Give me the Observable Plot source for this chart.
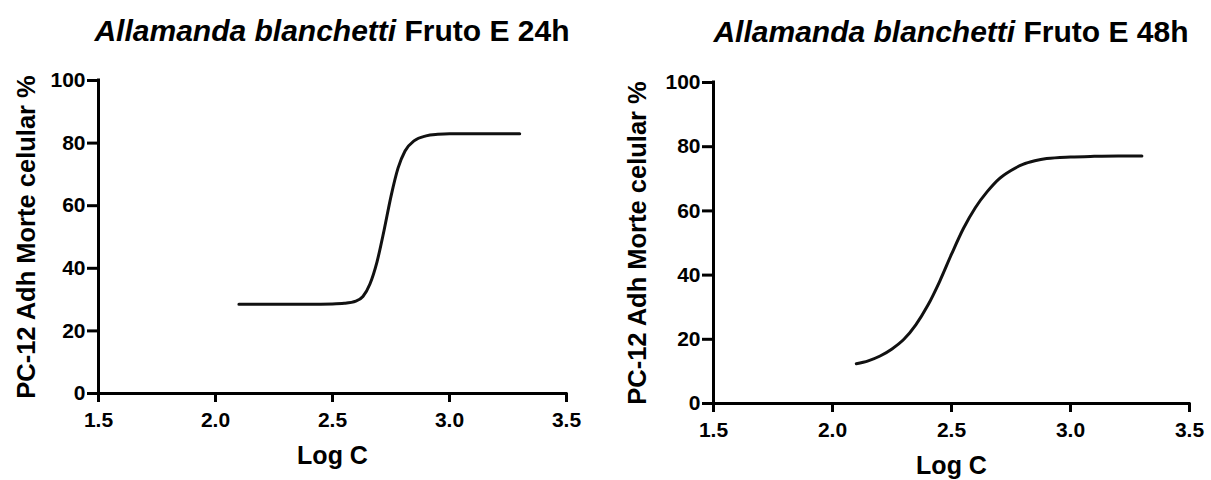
<!DOCTYPE html>
<html>
<head>
<meta charset="utf-8">
<script src="https://cdn.jsdelivr.net/npm/d3@7"></script>
<script src="https://cdn.jsdelivr.net/npm/@observablehq/plot@0.6"></script>
<style>
  html, body { margin: 0; padding: 0; background: #fff; }
  #wrap { position: relative; width: 1211px; height: 480px; overflow: hidden; }
  #wrap svg { position: absolute; top: 0; }
</style>
</head>
<body>
<div id="wrap"></div>
<script>
// ---- data ----
const titleItalic = "Allamanda blanchetti";
const titles = [" Fruto E 24h", " Fruto E 48h"];
const xLabel = "Log C";
const yLabel = "PC-12 Adh Morte celular %";
const xTicks = [1.5, 2.0, 2.5, 3.0, 3.5];
const yTicks = [0, 20, 40, 60, 80, 100];

const logC24 = [2.10, 2.20, 2.30, 2.40, 2.50, 2.55, 2.60, 2.63, 2.66, 2.69, 2.72, 2.75, 2.78, 2.81, 2.85, 2.90, 2.95, 3.00, 3.10, 3.20, 3.30];
const death24 = [28.5, 28.5, 28.5, 28.5, 28.6, 28.8, 29.5, 31.0, 35.0, 42.0, 52.0, 63.0, 72.0, 77.5, 80.8, 82.3, 82.8, 83.0, 83.0, 83.0, 83.0];

const logC48 = [2.10, 2.15, 2.20, 2.25, 2.30, 2.35, 2.40, 2.45, 2.50, 2.55, 2.60, 2.65, 2.70, 2.75, 2.80, 2.85, 2.90, 3.00, 3.10, 3.20, 3.30];
const death48 = [12.4, 13.3, 14.8, 17.0, 20.0, 24.5, 30.5, 38.0, 46.5, 54.5, 61.0, 66.0, 70.0, 72.6, 74.5, 75.6, 76.3, 76.8, 77.0, 77.1, 77.1];

const FONT = "'Liberation Sans', Arial, Helvetica, sans-serif";

function panel(xs, ys, title, box) {
  const data = xs.map((x, i) => ({x, y: ys[i]}));
  const svg = Plot.plot({
    width: box.width,
    height: 480,
    marginLeft: box.ml,
    marginRight: box.mr,
    marginTop: box.mt,
    marginBottom: box.mb,
    style: {fontFamily: FONT, fontWeight: "bold", fontSize: "21px", color: "#000", background: "#fff", overflow: "visible"},
    x: {domain: [1.5, 3.5]},
    y: {domain: [0, 100]},
    marks: [
      Plot.ruleY([0], {stroke: "#000", strokeWidth: 3, strokeLinecap: "square"}),
      Plot.ruleX([1.5], {stroke: "#000", strokeWidth: 3, strokeLinecap: "square"}),
      Plot.axisX({ticks: xTicks, tickFormat: ".1f", tickSize: 9, tickPadding: 10, strokeWidth: 3, label: null}),
      Plot.axisY({ticks: yTicks, tickFormat: "d", tickSize: 11, tickPadding: 2, strokeWidth: 3, label: null}),
      Plot.text([xLabel], {frameAnchor: "bottom", textAnchor: "middle", lineAnchor: "bottom", dy: 70, fontSize: 25, fontWeight: "bold", fill: "#000"}),
      Plot.text([yLabel], {frameAnchor: "left", textAnchor: "middle", lineAnchor: "top", rotate: -90, dx: -box.yOff, fontSize: 25.5, fontWeight: "bold", fill: "#000"}),
      Plot.line(data, {x: "x", y: "y", curve: "monotone-x", stroke: "#111", strokeWidth: 3})
    ]
  });
  svg.style.left = box.left + "px";
  const cx = box.ml + (box.width - box.ml - box.mr) / 2;
  const t = d3.select(svg).append("text")
    .attr("x", cx).attr("y", box.titleY)
    .attr("text-anchor", "middle")
    .attr("font-family", FONT).attr("font-weight", "bold").attr("font-size", 30)
    .attr("fill", "#000");
  t.append("tspan").attr("font-style", "italic").text(titleItalic);
  t.append("tspan").text(title);
  return svg;
}

const wrap = document.getElementById("wrap");
wrap.appendChild(panel(logC24, death24, titles[0], {left: 0, width: 605, ml: 98, mr: 39, mt: 80, mb: 87, yOff: 82, titleY: 41}));
wrap.appendChild(panel(logC48, death48, titles[1], {left: 605, width: 606, ml: 108, mr: 22, mt: 82, mb: 77, yOff: 86, titleY: 41.7}));
</script>
</body>
</html>
